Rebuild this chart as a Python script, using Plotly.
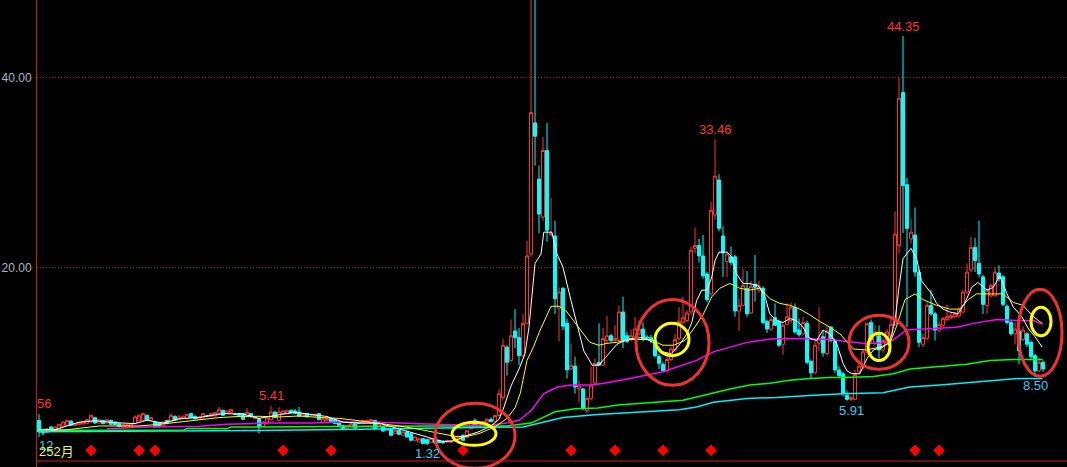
import plotly.graph_objects as go

# ---------------- data (monthly candles) ----------------
idx = list(range(252))

opens = [3.89, 2.84, 2.60, 3.19, 2.84, 3.00, 3.26, 3.37, 3.82, 3.37,
         3.44, 3.51, 3.54, 3.72, 4.18, 3.61, 3.89, 3.61, 3.89, 3.72,
         3.54, 3.19, 3.16, 3.19, 3.54, 3.82, 3.89, 4.42, 3.89, 3.72,
         3.61, 3.37, 3.89, 3.72, 4.32, 4.00, 4.07, 4.07, 4.60, 4.32,
         4.00, 4.14, 4.36, 4.32, 4.35, 4.60, 4.95, 4.60, 4.70, 4.56,
         4.60, 4.60, 4.32, 4.60, 4.07, 4.07, 3.26, 3.61, 3.96, 4.77,
         3.89, 4.60, 4.60, 4.95, 4.88, 4.77, 4.35, 4.60, 4.50, 4.35,
         4.60, 3.65, 3.89, 4.07, 3.96, 3.72, 3.37, 3.02, 3.19, 3.54,
         3.62, 3.54, 3.61, 3.54, 3.89, 3.26, 3.19, 2.93, 3.02, 2.49,
         2.84, 2.32, 2.67, 2.49, 1.79, 1.61, 1.96, 1.86, 1.54, 1.86,
         1.79, 1.72, 1.61, 1.58, 1.72, 1.90, 2.32, 2.10, 3.00, 3.85,
         3.15, 3.50, 3.70, 4.00, 3.80, 4.40, 6.30, 11.60, 10.20, 13.30,
         12.60, 10.70, 14.10, 21.40, 35.20, 29.30, 25.30, 32.30, 23.40, 23.30,
         15.70, 17.80, 14.10, 9.30, 9.60, 7.20, 7.20, 4.90, 6.20, 7.80,
         10.00, 9.70, 12.30, 12.80, 12.30, 12.30, 15.30, 12.80, 12.40, 12.70,
         13.00, 13.50, 12.65, 12.60, 12.35, 10.60, 9.80, 9.10, 10.30, 11.30,
         12.50, 14.20, 14.40, 15.30, 22.00, 22.30, 21.20, 19.30, 17.20, 25.50,
         29.20, 23.30, 20.60, 21.10, 21.10, 15.40, 16.00, 17.80, 15.20, 18.20,
         17.60, 17.80, 14.30, 13.50, 14.70, 14.30, 11.90, 14.00, 14.40, 15.80,
         13.40, 13.00, 14.10, 10.10, 8.90, 12.00, 12.70, 10.90, 13.70, 12.30,
         9.20, 8.80, 6.50, 6.10, 6.10, 9.00, 9.50, 11.10, 14.20, 12.00,
         12.80, 11.30, 12.30, 12.80, 14.00, 22.30, 38.40, 28.70, 23.00, 23.40,
         19.50, 11.90, 12.50, 16.00, 15.10, 13.40, 13.90, 14.50, 14.70, 14.80,
         14.90, 15.30, 17.40, 19.70, 22.10, 20.40, 19.00, 16.00, 17.00, 17.00,
         19.40, 19.00, 15.90, 14.20, 13.00, 13.30, 12.40, 13.00, 12.10, 10.70,
         9.10, 10.00]

highs = [4.56, 2.90, 3.10, 3.30, 3.25, 3.50, 3.80, 3.96, 3.90, 3.60,
         3.70, 3.80, 4.05, 4.49, 4.25, 4.00, 3.95, 4.05, 3.95, 3.80,
         3.60, 3.50, 3.50, 3.60, 4.42, 4.50, 4.70, 4.50, 4.25, 3.80,
         3.70, 3.80, 3.95, 4.60, 4.40, 4.49, 4.40, 4.60, 4.70, 4.40,
         4.30, 4.65, 4.50, 4.65, 4.75, 5.30, 5.00, 4.95, 5.08, 4.70,
         4.65, 4.65, 5.20, 4.65, 4.30, 4.12, 3.80, 4.20, 5.41, 4.85,
         5.30, 4.95, 5.00, 5.05, 5.10, 5.30, 4.65, 4.65, 4.60, 4.60,
         4.65, 4.12, 4.15, 4.12, 4.00, 3.76, 3.40, 3.40, 3.60, 3.60,
         3.70, 3.95, 3.95, 4.00, 3.95, 3.60, 3.25, 3.00, 3.08, 2.90,
         2.90, 2.72, 2.72, 2.55, 2.20, 2.00, 2.00, 1.95, 2.00, 1.90,
         1.85, 1.78, 1.84, 1.76, 2.00, 2.25, 2.40, 2.85, 3.85, 4.10,
         3.65, 3.80, 4.10, 4.20, 4.50, 7.20, 12.50, 11.80, 14.50, 15.60,
         13.60, 15.10, 22.80, 50.50, 51.00, 30.70, 33.70, 35.20, 27.30, 24.90,
         17.90, 17.90, 14.60, 12.00, 10.60, 8.10, 7.30, 6.40, 9.50, 10.40,
         14.10, 13.60, 14.90, 13.00, 13.90, 16.00, 16.90, 13.20, 13.40, 14.80,
         14.50, 14.20, 12.90, 12.90, 13.00, 10.90, 10.00, 10.90, 11.60, 13.00,
         15.80, 16.90, 15.50, 22.20, 24.20, 23.00, 23.40, 19.50, 26.90, 33.46,
         29.80, 24.30, 21.60, 22.20, 21.30, 16.70, 19.80, 19.60, 18.60, 21.30,
         18.60, 18.00, 14.50, 14.90, 16.20, 14.50, 14.00, 16.20, 16.30, 16.20,
         14.60, 14.80, 14.40, 10.30, 12.30, 15.80, 13.30, 13.80, 13.80, 12.40,
         9.60, 9.00, 7.00, 6.40, 9.20, 10.20, 11.40, 14.20, 14.50, 13.90,
         13.90, 12.60, 13.50, 14.90, 25.90, 40.00, 44.35, 29.40, 25.10, 26.30,
         19.80, 13.00, 16.30, 17.60, 15.30, 14.30, 14.80, 16.10, 15.30, 15.30,
         15.80, 17.60, 20.40, 23.20, 23.10, 24.90, 19.20, 17.80, 18.30, 20.00,
         20.20, 19.20, 16.10, 14.40, 14.20, 13.60, 13.80, 13.20, 12.30, 10.90,
         10.50, 10.20]

lows = [2.12, 2.30, 2.50, 2.70, 2.80, 2.95, 3.20, 3.30, 3.30, 3.30,
        3.40, 3.45, 3.50, 3.65, 3.55, 3.55, 3.50, 3.55, 3.40, 3.40,
        3.20, 3.15, 3.10, 3.15, 3.50, 3.78, 3.85, 3.90, 3.85, 3.10,
        3.15, 3.30, 3.50, 3.65, 3.85, 3.95, 4.00, 4.00, 4.10, 4.00,
        3.95, 4.10, 4.25, 4.28, 4.30, 4.55, 4.35, 4.55, 4.65, 4.45,
        4.35, 3.95, 4.28, 4.20, 4.00, 2.50, 3.20, 3.55, 3.90, 4.10,
        3.85, 4.55, 4.55, 4.60, 4.55, 4.28, 4.30, 4.20, 4.40, 4.30,
        3.90, 3.60, 3.85, 3.60, 3.50, 3.30, 2.84, 2.98, 3.15, 3.05,
        3.50, 3.50, 3.58, 3.50, 2.95, 3.20, 2.70, 2.85, 2.25, 2.45,
        2.38, 2.28, 2.10, 1.75, 1.75, 1.58, 1.40, 1.32, 1.50, 1.48,
        1.50, 1.48, 1.58, 1.55, 1.68, 1.86, 1.75, 2.05, 2.95, 3.35,
        3.10, 3.45, 3.65, 3.70, 3.75, 4.30, 6.00, 8.60, 10.00, 11.50,
        9.70, 10.50, 14.00, 21.10, 30.70, 23.60, 24.90, 22.70, 23.30, 15.10,
        12.20, 13.40, 8.30, 9.20, 6.70, 5.80, 5.00, 4.60, 6.00, 7.60,
        9.60, 9.60, 12.00, 12.10, 12.10, 12.20, 11.50, 12.00, 12.20, 12.50,
        12.80, 12.20, 12.40, 12.00, 10.50, 9.30, 9.00, 8.90, 10.10, 11.10,
        12.30, 14.00, 14.20, 15.00, 21.50, 20.50, 18.80, 16.30, 17.00, 25.00,
        23.80, 19.00, 19.00, 20.20, 14.80, 13.30, 15.90, 14.80, 15.10, 16.40,
        17.30, 14.00, 13.10, 13.30, 13.80, 11.60, 10.80, 13.90, 14.10, 13.00,
        12.70, 12.80, 9.80, 8.30, 8.80, 11.20, 10.60, 10.70, 12.10, 8.90,
        8.40, 6.40, 5.95, 5.91, 6.00, 8.80, 9.30, 10.90, 12.00, 11.80,
        10.40, 11.00, 12.00, 12.60, 13.80, 21.50, 23.60, 13.70, 22.50, 19.00,
        11.60, 11.60, 12.30, 14.90, 12.30, 13.20, 13.70, 14.30, 14.50, 14.60,
        14.70, 15.10, 17.20, 19.50, 19.50, 19.00, 15.10, 15.10, 16.80, 16.90,
        18.50, 15.90, 14.00, 12.80, 11.90, 9.80, 12.20, 11.60, 10.30, 8.50,
        8.90, 9.00]

closes = [2.67, 2.56, 3.00, 2.77, 3.19, 3.47, 3.72, 3.89, 3.37, 3.54,
          3.65, 3.72, 3.96, 4.42, 3.61, 3.96, 3.54, 3.96, 3.47, 3.44,
          3.26, 3.47, 3.44, 3.54, 4.25, 4.42, 4.60, 3.96, 4.18, 3.19,
          3.19, 3.72, 3.54, 4.42, 3.89, 4.25, 4.32, 4.53, 4.18, 4.04,
          4.25, 4.60, 4.34, 4.60, 4.70, 5.02, 4.42, 4.88, 5.02, 4.54,
          4.42, 4.00, 4.74, 4.25, 4.25, 3.19, 3.72, 4.14, 4.77, 4.18,
          4.77, 4.88, 4.95, 4.67, 4.60, 4.32, 4.60, 4.25, 4.48, 4.53,
          3.96, 4.07, 4.07, 3.65, 3.54, 3.37, 3.02, 3.37, 3.54, 3.10,
          3.58, 3.89, 3.89, 3.96, 3.02, 3.54, 2.77, 2.90, 2.32, 2.84,
          2.42, 2.67, 2.14, 1.79, 2.14, 1.96, 1.44, 1.44, 1.96, 1.51,
          1.54, 1.51, 1.79, 1.72, 1.96, 2.20, 1.79, 2.80, 3.75, 3.40,
          3.60, 3.75, 4.00, 3.75, 4.40, 6.70, 11.80, 10.00, 12.80, 12.60,
          10.70, 14.10, 21.20, 36.30, 33.80, 25.60, 32.30, 23.90, 23.60, 16.70,
          17.40, 13.80, 9.20, 9.70, 7.40, 7.50, 5.10, 6.20, 7.60, 9.90,
          9.70, 12.50, 12.80, 12.30, 12.50, 15.30, 12.30, 12.20, 12.80, 13.50,
          13.50, 12.40, 12.55, 12.30, 10.70, 9.90, 9.10, 10.30, 11.40, 12.40,
          14.30, 14.70, 15.20, 21.80, 22.30, 21.20, 19.10, 16.60, 26.00, 29.60,
          24.10, 21.50, 21.40, 20.50, 15.40, 16.00, 18.10, 15.10, 18.00, 17.90,
          18.00, 14.20, 13.50, 14.50, 13.90, 11.80, 13.90, 14.80, 15.80, 13.20,
          12.90, 14.20, 10.00, 8.90, 11.80, 12.50, 11.00, 13.30, 12.30, 9.20,
          8.60, 6.70, 6.10, 6.30, 8.70, 9.60, 11.10, 14.10, 12.40, 13.20,
          11.30, 12.30, 13.20, 14.00, 23.50, 37.80, 28.60, 24.10, 23.70, 19.50,
          12.10, 12.60, 16.00, 15.10, 13.40, 14.00, 14.60, 14.80, 14.90, 15.10,
          15.50, 17.40, 19.50, 22.10, 20.70, 19.30, 16.10, 17.60, 18.10, 19.50,
          18.80, 16.10, 14.20, 13.00, 13.50, 11.20, 13.40, 11.90, 10.60, 9.10,
          10.00, 9.30]

# moving-average lines (x = candle index, y = price)
ma_white_x = [0, 4, 7, 10, 14, 19, 24, 27, 31, 35, 40, 46, 51, 55, 59, 64, 69, 72, 76, 81,
              85, 89, 93, 97, 101, 104, 107, 110, 113, 115, 116, 118, 120, 121.5, 122.5, 124,
              125.5, 126.2, 128.2, 129.5, 131, 133, 134.6, 136.2, 138.3, 140, 141.2, 143.2,
              144.5, 146, 148, 151, 154, 156, 158, 160, 162, 163.2, 164.4, 165.7, 167, 168.2,
              169, 170, 172, 173.2, 174.4, 176, 177.3, 179.8, 181.5, 182.7, 184.4, 186, 187.7,
              189.4, 191, 192.7, 194.4, 196, 197.7, 199.4, 201, 202, 203.2, 205.2, 207, 208.6,
              211, 212.7, 214, 215, 216, 218, 219.4, 220.6, 222, 223.2, 224.4, 226, 227.7,
              229.8, 231.5, 233.2, 234.7, 237, 238.6, 240.2, 242, 243.6, 245.7, 247.4, 249, 250.8]
ma_white_y = [2.9, 2.9, 3.3, 3.7, 3.85, 3.65, 3.55, 3.9, 3.6, 4.05, 4.2, 4.6, 4.55, 4.1, 4.4,
              4.75, 4.45, 4.3, 3.7, 3.6, 3.6, 3.1, 2.6, 2.1, 1.65, 1.75, 2.3, 2.7, 3.3, 4.0,
              5.0, 7.5, 9.3, 10.9, 13.7, 20.4, 21.4, 23.7, 23.7, 21.4, 20.0, 16.5, 13.7, 11.2,
              9.7, 9.7, 10.3, 11.2, 11.9, 12.2, 12.5, 12.6, 12.0, 11.1, 10.9, 11.8, 13.0, 14.2,
              16.5, 17.6, 17.6, 19.0, 20.7, 21.6, 21.6, 21.1, 19.3, 18.3, 18.3, 18.1, 16.9,
              15.1, 14.4, 14.2, 14.6, 14.4, 13.7, 12.5, 12.3, 13.4, 13.0, 12.0, 9.9, 9.1, 8.8,
              8.8, 10.4, 11.3, 11.6, 12.2, 14.4, 17.9, 20.9, 22.0, 20.9, 18.6, 17.9, 17.2,
              16.2, 15.6, 15.3, 15.1, 16.3, 17.9, 18.4, 17.6, 17.9, 19.1, 17.2, 15.8, 14.8,
              13.5, 12.7, 11.6]

ma_yellow_x = [3, 7, 10, 15, 20, 25, 30, 35, 40, 45, 50, 55, 60, 65, 70, 75, 79, 85, 90, 95,
               100, 104, 107, 110, 114, 117, 119, 120.3, 122, 123.6, 125.3, 127, 128, 130, 132,
               133.6, 135.3, 137.7, 140, 142, 144.4, 147.7, 152.7, 156, 158.6, 161.5, 163.6,
               166, 168.2, 170.2, 172.7, 175.2, 177.7, 180.2, 182.7, 185.2, 187.7, 190.2,
               192.7, 195.2, 197.7, 200.2, 203.6, 206.9, 210.2, 212.7, 214.4, 216.5, 219, 221,
               224.4, 227.7, 230.2, 232.3, 234.4, 237, 239.4, 241, 243.6, 246, 248.6, 250.8]
ma_yellow_y = [2.84, 2.9, 3.05, 3.3, 3.3, 3.3, 3.47, 3.72, 3.9, 4.18, 4.3, 4.32, 4.25, 4.35,
               4.2, 4.1, 3.9, 3.6, 3.3, 2.95, 2.5, 2.2, 2.2, 2.5, 3.2, 4.1, 5.2, 6.7, 10.2,
               11.6, 13.4, 15.1, 15.9, 15.9, 15.3, 14.4, 13.4, 12.1, 11.8, 12.0, 12.1, 12.4,
               12.4, 11.8, 11.8, 12.3, 13.5, 15.0, 16.9, 17.8, 18.3, 17.8, 17.6, 17.8, 16.7,
               16.2, 16.0, 15.6, 15.0, 14.3, 13.7, 13.0, 11.4, 11.3, 11.6, 12.0, 13.8, 16.6,
               17.2, 16.6, 16.0, 15.6, 15.6, 16.6, 17.2, 17.2, 17.2, 17.2, 16.3, 16.0, 14.8,
               14.1]

ma_magenta_x = [17, 26, 40, 47, 57, 68, 75, 85, 95, 102, 108, 113, 117, 120, 123, 126.2, 129.6,
                133, 138, 141.2, 144.6, 147.7, 156, 164.4, 168.6, 172.7, 177, 182.7, 189.4,
                197.7, 202, 207, 212.7, 216.9, 221, 229.4, 233.6, 239.4, 245.2, 248.6, 250.9]
ma_magenta_y = [3.0, 3.2, 3.26, 3.47, 3.6, 3.62, 3.72, 3.68, 3.54, 3.44, 3.37, 3.4, 3.6, 3.9,
                4.9, 6.7, 7.4, 7.6, 7.6, 7.8, 8.1, 8.3, 9.0, 10.2, 11.1, 11.6, 12.1, 12.45,
                12.5, 12.4, 12.2, 11.96, 12.1, 13.4, 13.5, 13.7, 14.1, 14.5, 14.4, 14.4, 14.0]

ma_green_x = [0, 36, 37, 47, 48, 68, 82, 103, 117, 123, 129, 134, 139.7, 144.7, 147.7, 156,
              161, 164.4, 167.7, 172.7, 177.7, 182.7, 187.7, 192.7, 197.7, 201.5, 208.6,
              213.6, 217.7, 225.2, 231.9, 237.7, 243.6, 250.9]
ma_green_y = [2.84, 2.84, 3.02, 3.02, 3.19, 3.19, 3.26, 3.3, 3.3, 3.6, 4.8, 5.1, 5.2, 5.5,
              5.6, 5.8, 6.0, 6.34, 6.7, 7.2, 7.6, 7.8, 8.1, 8.3, 8.4, 8.4, 8.5, 8.8, 9.3, 9.6,
              9.8, 10.2, 10.3, 10.3]

ma_cyan_x = [0, 30, 60, 80, 100, 117, 121, 126, 131, 139.6, 147.7, 160, 164.4, 168.6, 177,
             184.4, 192.7, 201, 211, 214.4, 217.7, 225.2, 233.6, 240.2, 245.2, 250.9]
ma_cyan_y = [2.7, 2.75, 2.85, 2.95, 3.05, 3.15, 3.2, 3.7, 4.2, 4.5, 4.7, 5.0, 5.3, 5.8, 6.2,
             6.3, 6.5, 6.7, 6.8, 7.1, 7.4, 7.6, 7.9, 8.2, 8.3, 8.3]

# signal markers (red diamonds) under the candles
signal_idx = [13, 25, 29, 61, 73, 106, 133, 144, 156, 168, 219, 225]

# marked highs / lows
high_label_idx = [58, 169, 216]
low_label_idx = [97, 203, 249]

# hand-drawn rings: (x0, x1, y_top, y_bottom) in candle index / price units
red_rings = [(99, 119, 5.68, -1.16), (149.25, 167.5, 16.6, 7.58),
             (202.5, 217.5, 14.95, 9.26), (244.75, 255.75, 17.68, 8.53)]
yellow_rings = [(103.25, 114.25, 3.68, 1.26), (154, 162.5, 14.1, 10.7),
                (207.25, 212.75, 13.05, 10.2), (248, 253, 15.8, 12.8)]

# ---------------- figure ----------------
RED = "#ff3232"
CYAN = "#00ffff"
LABEL_BLUE = "#3cc8f0"
FONT = "Liberation Sans, Arial, Noto Sans CJK SC, sans-serif"

highs = [max(h, o, c) for h, o, c in zip(highs, opens, closes)]
lows = [min(l, o, c) for l, o, c in zip(lows, opens, closes)]

fig = go.Figure()
fig.add_trace(go.Candlestick(
    x=idx, open=opens, high=highs, low=lows, close=closes,
    increasing=dict(line=dict(color=RED, width=1), fillcolor="#000000"),
    decreasing=dict(line=dict(color=CYAN, width=1), fillcolor=CYAN),
    whiskerwidth=0, hoverinfo="skip", showlegend=False))

for xs, ys, col, w in [(ma_cyan_x, ma_cyan_y, "#00f0ff", 1.5),
                       (ma_green_x, ma_green_y, "#00ff00", 1.5),
                       (ma_magenta_x, ma_magenta_y, "#ff00ff", 1.5),
                       (ma_yellow_x, ma_yellow_y, "#ffff00", 1),
                       (ma_white_x, ma_white_y, "#ffffff", 1)]:
    fig.add_trace(go.Scatter(x=xs, y=ys, mode="lines", line=dict(color=col, width=w),
                             hoverinfo="skip", showlegend=False))

signal_level = 0.74
fig.add_trace(go.Scatter(x=signal_idx, y=[signal_level] * len(signal_idx), mode="markers",
                         marker=dict(symbol="diamond", size=9, color="#ff0000",
                                     line=dict(width=0)),
                         hoverinfo="skip", showlegend=False))

shapes = []
for x0, x1, yt, yb in red_rings:
    shapes.append(dict(type="circle", xref="x", yref="y", x0=x0, x1=x1, y0=yb, y1=yt,
                       line=dict(color="#f03232", width=3), layer="above"))
for x0, x1, yt, yb in yellow_rings:
    shapes.append(dict(type="circle", xref="x", yref="y", x0=x0, x1=x1, y0=yb, y1=yt,
                       line=dict(color="#ffff00", width=3), layer="above"))
# separator line above the indicator panel
shapes.append(dict(type="line", xref="paper", yref="paper", x0=0, x1=1,
                   y0=6 / 467, y1=6 / 467, line=dict(color="#c02020", width=1)))

annotations = []
for i in high_label_idx:
    annotations.append(dict(x=i, y=highs[i], text=f"{highs[i]:.2f}", showarrow=False,
                            yshift=10, font=dict(color=RED, size=13, family=FONT)))
for i in low_label_idx:
    annotations.append(dict(x=i, y=lows[i], text=f"{lows[i]:.2f}", showarrow=False,
                            yshift=-9, font=dict(color=LABEL_BLUE, size=13, family=FONT)))
# first-candle labels, partly hidden behind the price axis
annotations.append(dict(x=-0.5, y=highs[0], text=f"{highs[0]:.2f}"[2:], showarrow=False,
                        xanchor="left", xshift=-2, yshift=10,
                        font=dict(color=RED, size=13, family=FONT)))
annotations.append(dict(x=-0.5, y=lows[0], text=f"{lows[0]:.2f}"[2:], showarrow=False,
                        xanchor="left", yshift=-8,
                        font=dict(color=LABEL_BLUE, size=13, family=FONT)))
annotations.append(dict(xref="paper", yref="paper", x=0.0, y=(467 - 451.5) / 467,
                        text="252月", showarrow=False, xanchor="left", yanchor="middle",
                        font=dict(color="#f0f050", size=13, family=FONT)))
# indicator panel text, mostly below the window edge
annotations.append(dict(xref="paper", yref="paper", x=(44 - 37) / 1030, y=(467 - 464) / 467,
                        text="CCI", showarrow=False, xanchor="left", yanchor="top",
                        font=dict(color="#f0f050", size=12, family=FONT)))
annotations.append(dict(xref="paper", yref="paper", x=(92 - 37) / 1030, y=(467 - 464) / 467,
                        text="2554955540.00", showarrow=False, xanchor="left", yanchor="top",
                        font=dict(color="#ffffff", size=12, family=FONT)))

fig.update_layout(
    width=1067, height=467,
    margin=dict(l=37, r=0, t=0, b=0, pad=0),
    paper_bgcolor="#000000", plot_bgcolor="#000000",
    showlegend=False, shapes=shapes, annotations=annotations,
    boxgap=0.25, boxgroupgap=0,
    xaxis=dict(range=[-0.5, 257], visible=False, rangeslider=dict(visible=False),
               showgrid=False, zeroline=False),
    yaxis=dict(range=[-1.02, 48.14], tickvals=[20, 40], ticktext=["20.00", "40.00"],
               showgrid=True, gridcolor="#a02424", griddash="1px,2px", gridwidth=1,
               zeroline=False, showline=True, linecolor="#c02020", linewidth=1,
               ticks="", ticklabelstandoff=2, automargin=False,
               tickfont=dict(color="#a8b4c8", size=12, family=FONT)),
)

fig.write_html("out.html",
               config={"displayModeBar": False},
               post_script="document.body.style.margin='0';"
                           "document.body.style.background='#000';"
                           "document.body.style.overflow='hidden';")
